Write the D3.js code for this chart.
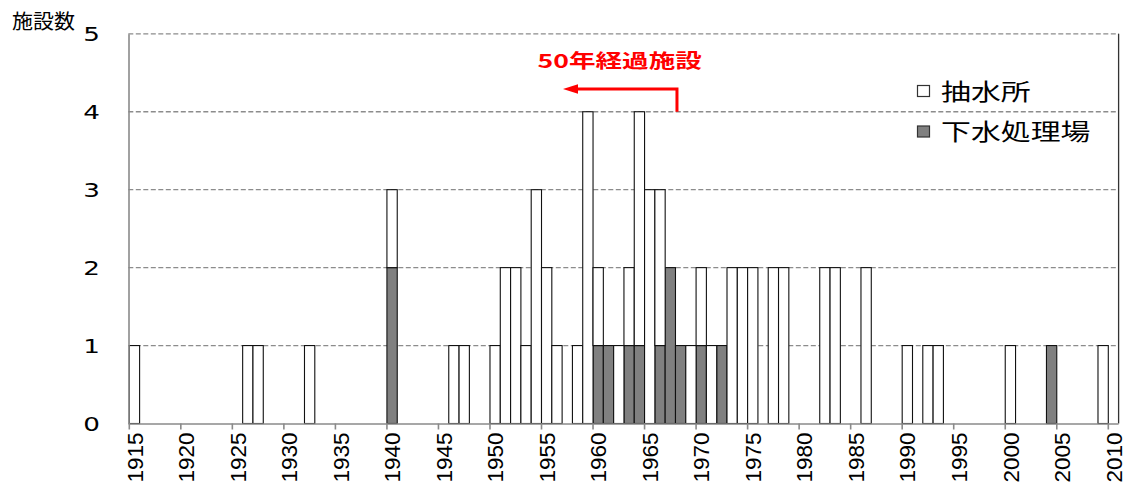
<!DOCTYPE html>
<html>
<head>
<meta charset="utf-8">
<script src="https://cdn.jsdelivr.net/npm/d3@7"></script>
<style>
  body { margin: 0; background: #fff; }
  svg { display: block; }
</style>
</head>
<body>
<svg id="chart" width="1129" height="486"></svg>
<script>
// Year of construction categories (one band per year)
const years = d3.range(1915, 2011);

// 抽水所: facilities completed per year, 1915–2010 (one row per decade)
const pumpStations = [
  1, 0, 0, 0, 0,                      // 1915–1919
  0, 0, 0, 0, 0, 0, 1, 1, 0, 0,       // 1920s
  0, 0, 1, 0, 0, 0, 0, 0, 0, 0,       // 1930s
  1, 0, 0, 0, 0, 0, 1, 1, 0, 0,       // 1940s
  1, 2, 2, 1, 3, 2, 1, 0, 1, 4,       // 1950s
  1, 0, 1, 1, 3, 3, 2, 0, 0, 1,       // 1960s
  1, 1, 0, 2, 2, 2, 0, 2, 2, 0,       // 1970s
  0, 0, 2, 2, 0, 0, 2, 0, 0, 0,       // 1980s
  1, 0, 1, 1, 0, 0, 0, 0, 0, 0,       // 1990s
  1, 0, 0, 0, 0, 0, 0, 0, 0, 1,       // 2000s
  0                                   // 2010
];

// 下水処理場: facilities completed per year, 1915–2010
const sewagePlants = [
  0, 0, 0, 0, 0,
  0, 0, 0, 0, 0, 0, 0, 0, 0, 0,
  0, 0, 0, 0, 0, 0, 0, 0, 0, 0,
  2, 0, 0, 0, 0, 0, 0, 0, 0, 0,
  0, 0, 0, 0, 0, 0, 0, 0, 0, 0,
  1, 1, 0, 1, 1, 0, 1, 2, 1, 0,
  1, 0, 1, 0, 0, 0, 0, 0, 0, 0,
  0, 0, 0, 0, 0, 0, 0, 0, 0, 0,
  0, 0, 0, 0, 0, 0, 0, 0, 0, 0,
  0, 0, 0, 0, 1, 0, 0, 0, 0, 0,
  0
];

const seriesKeys = ["下水処理場", "抽水所"];     // stacking order, bottom first
const legendKeys = ["抽水所", "下水処理場"];     // legend order
const seriesFill = { "抽水所": "#ffffff", "下水処理場": "#808080" };
const yTickValues = [0, 1, 2, 3, 4, 5];
const xTickYears = d3.range(1915, 2011, 5);
const yTitle = "施設数";
const noteText = "50年経過施設";
const cutoffYear = 1968;   // facilities built up to this year are 50+ years old

const rows = years.map((yr, i) => ({
  year: yr,
  "抽水所": pumpStations[i],
  "下水処理場": sewagePlants[i]
}));

const svg = d3.select("#chart");
const plot = { left: 129.3, right: 1118.6, top: 33.8, bottom: 423.5 };

const x = d3.scaleBand()
  .domain(years)
  .range([plot.left, plot.right])
  .paddingInner(0)
  .paddingOuter(0);

const y = d3.scaleLinear()
  .domain([0, 5])
  .range([plot.bottom, plot.top]);

// helper for horizontally widened text
function wideText(parent, tx, ty, sx, txt) {
  return parent.append("text")
    .attr("transform", `translate(${tx},${ty}) scale(${sx},1)`)
    .text(txt);
}

// dashed gridlines
svg.append("g")
  .selectAll("line")
  .data(yTickValues.filter(d => d > 0))
  .join("line")
  .attr("x1", plot.left - 1)
  .attr("x2", plot.right)
  .attr("y1", d => y(d))
  .attr("y2", d => y(d))
  .attr("stroke", "#8c8c8c")
  .attr("stroke-width", 1.3)
  .attr("stroke-dasharray", "5,2.5");

// stacked bars
const stacked = d3.stack().keys(seriesKeys)(rows);
svg.append("g")
  .selectAll("g")
  .data(stacked)
  .join("g")
  .attr("fill", s => seriesFill[s.key])
  .selectAll("rect")
  .data(s => s.filter(d => d[1] - d[0] > 0))
  .join("rect")
  .attr("x", d => x(d.data.year))
  .attr("width", x.bandwidth())
  .attr("y", d => y(d[1]))
  .attr("height", d => y(d[0]) - y(d[1]))
  .attr("stroke", "#111")
  .attr("stroke-width", 1.1);

// right border of the plot area
svg.append("line")
  .attr("x1", plot.right).attr("x2", plot.right)
  .attr("y1", plot.top).attr("y2", plot.bottom)
  .attr("stroke", "#333").attr("stroke-width", 1.3);

// y axis
const yAxis = svg.append("g")
  .attr("transform", `translate(${plot.left - 0.8},0)`)
  .call(d3.axisLeft(y).tickValues(yTickValues).tickSize(0).tickPadding(0));
yAxis.select(".domain").attr("stroke", "#8a8a8a").attr("stroke-width", 1.6);
yAxis.selectAll("text").remove();
yAxis.selectAll(".tick").each(function(d) {
  wideText(d3.select(this), -28.5, 0, 1.38, d)
    .attr("text-anchor", "end")
    .attr("dy", "0.36em")
    .attr("fill", "#000")
    .style("font-family", "'DejaVu Sans', Verdana, sans-serif")
    .style("font-size", "19px");
});

// x axis: ticks on category boundaries, labels centred on categories
const xAxis = svg.append("g")
  .attr("transform", `translate(0,${plot.bottom})`)
  .call(d3.axisBottom(x).tickValues(xTickYears).tickSize(6).tickSizeOuter(0));
xAxis.select(".domain")
  .attr("d", `M${plot.left - 0.8},0.5H${plot.right}`)
  .attr("stroke", "#8a8a8a").attr("stroke-width", 1.6);
xAxis.selectAll(".tick line")
  .attr("x1", -x.bandwidth() / 2).attr("x2", -x.bandwidth() / 2)
  .attr("stroke", "#8a8a8a").attr("stroke-width", 1.6);
xAxis.selectAll(".tick text")
  .attr("transform", "rotate(-90)")
  .attr("x", -9)
  .attr("y", 0)
  .attr("dy", "0.36em")
  .attr("text-anchor", "end")
  .attr("fill", "#000")
  .style("font-family", "'Liberation Sans', Arial, sans-serif")
  .style("font-size", "22.5px");

// y axis title
wideText(svg, 12, 28.5, 1.05, yTitle)
  .attr("fill", "#000")
  .style("font-family", "'Noto Sans CJK JP', sans-serif")
  .style("font-size", "20px");

// legend
const legend = svg.append("g");
legendKeys.forEach((k, i) => {
  const cy = 91 + i * 40.5;
  legend.append("rect")
    .attr("x", 917.5).attr("y", cy - 5.5)
    .attr("width", 12).attr("height", 11)
    .attr("fill", seriesFill[k])
    .attr("stroke", "#333").attr("stroke-width", 1.2);
  wideText(legend, 941, cy + 8.7, 1.3, k)
    .attr("fill", "#000")
    .style("font-family", "'Noto Sans CJK JP', sans-serif")
    .style("font-size", "23px");
});

// 50-year annotation: bent arrow from the cutoff year pointing to older years
const arrowX = x(cutoffYear) + 1.5;
const arrowY = 89;
const tipX = arrowX - 114;
const note = svg.append("g");
note.append("path")
  .attr("d", `M${arrowX},${y(4)}V${arrowY}H${tipX + 13}`)
  .attr("fill", "none")
  .attr("stroke", "#ff0000")
  .attr("stroke-width", 3);
note.append("path")
  .attr("d", `M${tipX},${arrowY}L${tipX + 15},${arrowY - 4.8}L${tipX + 15},${arrowY + 4.8}Z`)
  .attr("fill", "#ff0000");
wideText(note, 619.7, 68.2, 1.4, noteText)
  .attr("text-anchor", "middle")
  .attr("fill", "#ff0000")
  .style("font-family", "'Noto Sans CJK JP', sans-serif")
  .style("font-weight", "700")
  .style("font-size", "19px");
</script>
</body>
</html>
